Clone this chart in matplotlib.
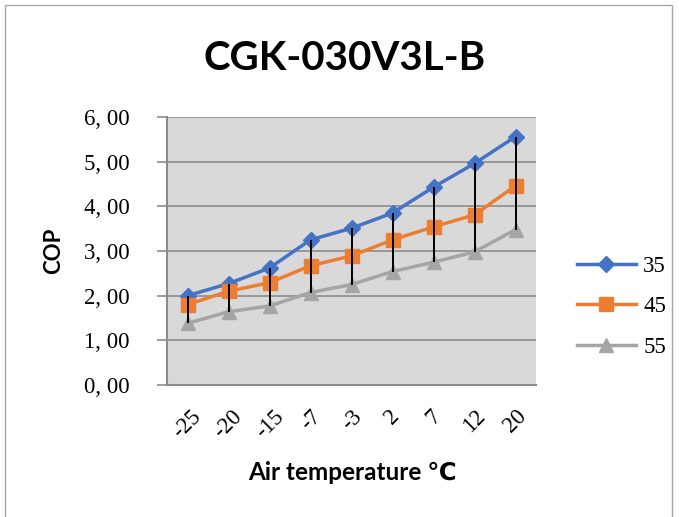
import matplotlib
matplotlib.use("Agg")
import matplotlib.pyplot as plt
from matplotlib.patches import Rectangle

categories = ["-25", "-20", "-15", "-7", "-3", "2", "7", "12", "20"]
cop_35 = [2.00, 2.27, 2.62, 3.25, 3.51, 3.85, 4.43, 4.96, 5.56]
cop_45 = [1.80, 2.10, 2.29, 2.67, 2.89, 3.25, 3.54, 3.81, 4.46]
cop_55 = [1.38, 1.64, 1.77, 2.07, 2.25, 2.54, 2.75, 2.98, 3.48]
series_names = ["35", "45", "55"]
y_ticks = [0, 1, 2, 3, 4, 5, 6]
y_tick_labels = ["0, 00", "1, 00", "2, 00", "3, 00", "4, 00", "5, 00", "6, 00"]

colors = ["#4472C4", "#ED7D31", "#A5A5A5"]
markers = ["D", "s", "^"]
msizes = [8, 10, 10]

serif = ["Liberation Serif", "DejaVu Serif"]
bold_sans = ["Lato", "DejaVu Sans"]

fig = plt.figure(figsize=(6.79, 5.17), dpi=100)
fig.patch.set_facecolor("white")
# chart border
fig.patches.append(Rectangle((5 / 679, -0.05), 667 / 679, (517 - 5) / 517 + 0.05,
                             transform=fig.transFigure, fill=False,
                             edgecolor="#a6a6a6", linewidth=1.0))

ax = fig.add_axes([167 / 679, (517 - 385) / 517, 369 / 679, 268 / 517])
ax.set_facecolor("#D9D9D9")
x = list(range(len(categories)))

all_series = [cop_35, cop_45, cop_55]
handles = []
for s, c, m, ms, name in zip(all_series, colors, markers, msizes, series_names):
    h, = ax.plot(x, s, color=c, marker=m, markersize=ms, linewidth=2.5,
                 markeredgecolor=c, label=name, zorder=3)
    handles.append(h)

lows = [min(v) for v in zip(*all_series)]
highs = [max(v) for v in zip(*all_series)]
ax.vlines(x, lows, highs, color="black", linewidth=1.4, zorder=4)

ax.set_xlim(-0.5, len(categories) - 0.5)
ax.set_ylim(0, 6)
ax.set_yticks(y_ticks)
ax.set_yticklabels(y_tick_labels, fontfamily=serif, fontsize=16.5)
ax.set_xticks(x)
ax.set_xticklabels(categories, fontfamily=serif, fontsize=16.5, rotation=45,
                   ha="center", va="top", rotation_mode="default")
ax.tick_params(axis="x", length=0, pad=15)
ax.tick_params(axis="y", length=7, color="#8c8c8c", width=1.2, pad=20)
ax.grid(axis="y", color="#8c8c8c", linewidth=1.2)
ax.set_axisbelow(True)
for side in ["top", "right"]:
    ax.spines[side].set_visible(False)
for side in ["left", "bottom"]:
    ax.spines[side].set_color("#8c8c8c")
    ax.spines[side].set_linewidth(1.5)

fig.text(345 / 679, 1 - 58 / 517, "CGK-030V3L-B", ha="center", va="center",
         fontsize=29, fontweight="bold", family=bold_sans)
fig.text(54 / 679, 1 - 251 / 517, "COP", ha="center", va="center", rotation=90,
         fontsize=16, fontweight="bold", family=bold_sans)
fig.text(352 / 679, 1 - 473 / 517, "Air temperature \u2103", ha="center", va="center",
         fontsize=17.5, fontweight="bold", family=bold_sans)

leg = fig.legend(handles=handles, labels=series_names, loc="upper left",
                 bbox_to_anchor=(556 / 679, 1 - 235 / 517), frameon=False,
                 prop={"family": serif, "size": 16.5}, handlelength=2.6,
                 labelspacing=0.85, handletextpad=0.3)

fig.savefig("out.png", dpi=100)
